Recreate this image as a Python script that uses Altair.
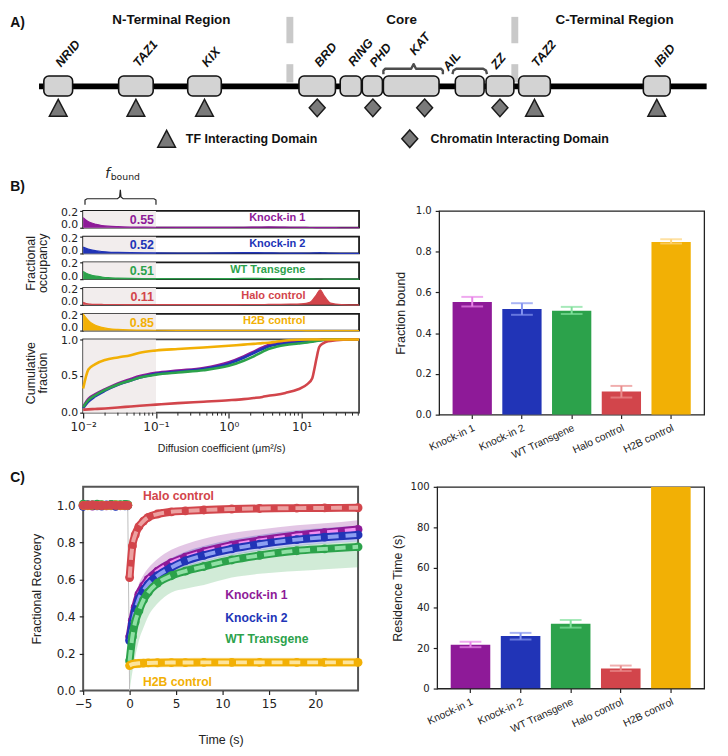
import altair as alt
import pandas as pd

S = 0.97
LF = "Liberation Sans"
NF = "DejaVu Sans"
INK = "#222222"
SHADE = "#f2eded"

# ---------------- shared categories / colours
groups = ["Knock-in 1", "Knock-in 2", "WT Transgene", "Halo control", "H2B control"]
group_colors = ["#8e1a98", "#2134b7", "#2ca24b", "#d2454b", "#f2b005"]
fit_colors = ["#f28ef0", "#8c9ef2", "#8fe0a4", "#eca1a1", "#fde49c"]
err_colors = ["#e884e8", "#8494f0", "#80e09b", "#e98b8b", "#fdd47c"]

# ---------------- Panel A (schematic, diagram position units)
domain_names = ["NRID", "TAZ1", "KIX", "BRD", "RING", "PHD", "KAT", "AIL", "ZZ", "TAZ2", "IBiD"]
domain_start = [37, 115, 187, 303, 346, 369, 391, 466, 498, 532, 662]
domain_end = [67, 151, 222, 341, 368, 390, 449, 496, 527, 565, 690]
tf_domains = ["NRID", "TAZ1", "KIX", "TAZ2", "IBiD"]
chromatin_sites = [322, 380, 434, 512.5]
region_names = ["N-Terminal Region", "Core", "C-Terminal Region"]
region_centres = [170, 410, 632]
region_borders = [293.5, 528]
backbone_span = [32, 728]
legend_names = ["TF Interacting Domain", "Chromatin Interacting Domain"]
bracket_kat_x = [391, 391, 393, 420, 422.5, 425, 451, 453, 453]
bracket_kat_y = [66, 62, 60, 60, 55, 60, 60, 62, 66]
bracket_ail_x = [463, 464, 467, 495, 498, 499]
bracket_ail_y = [66, 62, 60, 60, 62, 66]

# ---------------- Panel B data
bound_range = [0.01, 0.1]
fbound_labels = ["0.55", "0.52", "0.51", "0.11", "0.85"]
ridge_ticks = [0.0, 0.2]
cum_ticks = [0.0, 0.5, 1.0]
ridge_D = [0.01, 0.011, 0.0125, 0.015, 0.018, 0.022, 0.03, 0.045, 0.07, 0.1, 0.2, 0.5, 1.0,
           1.6, 2.5, 3.5, 5.0, 7.0, 10.0, 13.0, 16.0, 18.0, 20.0, 25.0, 35.0, 61.5]
occ_k1 = [0.12, 0.09, 0.062, 0.04, 0.027, 0.019, 0.013, 0.009, 0.007, 0.006, 0.005, 0.004, 0.005,
          0.006, 0.008, 0.010, 0.009, 0.006, 0.004, 0.003, 0.002, 0.002, 0.001, 0.001, 0.0, 0.0]
occ_k2 = [0.075, 0.06, 0.045, 0.032, 0.023, 0.016, 0.012, 0.009, 0.007, 0.006, 0.005, 0.005, 0.007,
          0.010, 0.009, 0.007, 0.005, 0.004, 0.004, 0.005, 0.008, 0.009, 0.007, 0.003, 0.001, 0.0]
occ_wt = [0.09, 0.07, 0.052, 0.036, 0.026, 0.018, 0.013, 0.009, 0.007, 0.006, 0.005, 0.005, 0.007,
          0.009, 0.009, 0.008, 0.006, 0.004, 0.003, 0.003, 0.002, 0.002, 0.001, 0.001, 0.0, 0.0]
occ_halo = [0.03, 0.016, 0.009, 0.006, 0.005, 0.004, 0.004, 0.003, 0.003, 0.003, 0.003, 0.003, 0.003,
            0.004, 0.004, 0.005, 0.006, 0.008, 0.012, 0.03, 0.12, 0.18, 0.12, 0.02, 0.003, 0.0]
occ_h2b = [0.2, 0.15, 0.10, 0.06, 0.038, 0.024, 0.014, 0.008, 0.005, 0.004, 0.003, 0.002, 0.002,
           0.002, 0.002, 0.001, 0.001, 0.001, 0.001, 0.0, 0.0, 0.0, 0.0, 0.0, 0.0, 0.0]
occupancy = [occ_k1, occ_k2, occ_wt, occ_halo, occ_h2b]

cum_D = [0.01, 0.0118, 0.0145, 0.02, 0.03, 0.045, 0.06, 0.1, 0.2, 0.45, 1.0, 1.6, 2.2, 2.9, 3.5,
         4.5, 6.0, 9.0, 12.0, 14.0, 15.0, 16.0, 17.5, 20.0, 23.0, 30.0, 45.0, 61.5]
cum_k1 = [0.08, 0.19, 0.25, 0.32, 0.40, 0.46, 0.50, 0.545, 0.575, 0.61, 0.69, 0.77, 0.835, 0.89, 0.925,
          0.945, 0.96, 0.97, 0.98, 0.985, 0.988, 0.99, 0.993, 0.998, 1.0, 1.0, 1.0, 1.0]
cum_k2 = [0.06, 0.15, 0.22, 0.30, 0.38, 0.44, 0.48, 0.53, 0.56, 0.595, 0.67, 0.75, 0.815, 0.87, 0.905,
          0.93, 0.945, 0.96, 0.97, 0.975, 0.98, 0.985, 0.99, 0.995, 0.999, 1.0, 1.0, 1.0]
cum_wt = [0.075, 0.17, 0.235, 0.31, 0.385, 0.44, 0.48, 0.52, 0.55, 0.58, 0.64, 0.71, 0.77, 0.83, 0.87,
          0.90, 0.925, 0.945, 0.96, 0.97, 0.975, 0.98, 0.985, 0.995, 1.0, 1.0, 1.0, 1.0]
cum_halo = [0.04, 0.045, 0.05, 0.058, 0.07, 0.085, 0.095, 0.11, 0.13, 0.15, 0.17, 0.185, 0.20, 0.215, 0.23,
            0.245, 0.27, 0.32, 0.39, 0.47, 0.6, 0.74, 0.9, 0.95, 0.975, 0.99, 1.0, 1.0]
cum_h2b = [0.33, 0.59, 0.66, 0.72, 0.755, 0.785, 0.82, 0.85, 0.87, 0.89, 0.915, 0.93, 0.94, 0.95, 0.955,
           0.97, 0.985, 0.997, 1.0, 1.0, 1.0, 1.0, 1.0, 1.0, 1.0, 1.0, 1.0, 1.0]
cumulative = [cum_k1, cum_k2, cum_wt, cum_halo, cum_h2b]
major_D = [0.01, 0.1, 1, 10]
minor_D = [0.02, 0.03, 0.04, 0.05, 0.06, 0.07, 0.08, 0.09, 0.2, 0.3, 0.4, 0.5, 0.6, 0.7, 0.8, 0.9,
           2, 3, 4, 5, 6, 7, 8, 9, 20, 30, 40, 50, 60]
brace_D = [0.0106, 0.0106, 0.0113, 0.0296, 0.0317, 0.0324, 0.0331, 0.0354, 0.094, 0.1, 0.1]
brace_y = [0.274, 0.33, 0.345, 0.345, 0.365, 0.451, 0.365, 0.345, 0.345, 0.33, 0.274]

fraction_bound = [0.553, 0.518, 0.510, 0.113, 0.848]
fb_low = [0.531, 0.490, 0.494, 0.084, 0.840]
fb_high = [0.578, 0.547, 0.529, 0.141, 0.861]

# ---------------- Panel C data
pre_t = [-5.0, -4.5, -4.0, -3.5, -3.0, -2.5, -2.0, -1.5, -1.0, -0.5, -0.2]
post_t = [0.0, 0.3, 0.6, 1.0, 1.5, 2.0, 3.0, 4.5, 6.0, 8.0, 11.0, 14.0, 18.0, 21.0, 24.6]
pre_k1 = [1.0, 1.004, 0.996, 1.002, 1.0, 0.997, 1.003, 1.0, 0.998, 1.002, 1.0]
pre_k2 = [0.995, 1.0, 1.003, 0.997, 0.996, 1.002, 0.998, 0.995, 1.0, 0.997, 0.998]
pre_wt = [1.006, 1.002, 1.0, 1.006, 1.004, 0.999, 1.005, 1.004, 1.003, 1.005, 1.004]
pre_halo = [1.0, 1.0, 1.001, 1.0, 0.999, 1.0, 1.001, 1.0, 1.0, 1.0, 1.0]
pre_h2b = [1.0, 0.998, 1.002, 1.0, 1.001, 0.999, 1.0, 1.002, 0.999, 1.0, 1.0]
post_k1 = [0.29, 0.38, 0.45, 0.52, 0.565, 0.60, 0.645, 0.69, 0.72, 0.75, 0.785, 0.81, 0.837, 0.853, 0.87]
post_k2 = [0.27, 0.36, 0.43, 0.495, 0.54, 0.575, 0.62, 0.665, 0.70, 0.73, 0.765, 0.79, 0.815, 0.828, 0.84]
post_wt = [0.16, 0.29, 0.37, 0.43, 0.49, 0.53, 0.58, 0.62, 0.645, 0.67, 0.705, 0.73, 0.755, 0.765, 0.776]
post_halo = [0.61, 0.78, 0.84, 0.885, 0.915, 0.935, 0.953, 0.965, 0.970, 0.975, 0.98, 0.983, 0.985, 0.986, 0.987]
post_h2b = [0.135, 0.142, 0.145, 0.147, 0.148, 0.149, 0.150, 0.151, 0.151, 0.152, 0.152, 0.152, 0.152, 0.152, 0.152]
band_up_k1 = [0.02, 0.04, 0.05, 0.055, 0.06, 0.06, 0.065, 0.07, 0.07, 0.07, 0.065, 0.06, 0.055, 0.05, 0.05]
band_dn_k1 = [0.03] * 15
band_up_k2 = [0.02, 0.035, 0.04, 0.045, 0.05, 0.05, 0.05, 0.05, 0.05, 0.05, 0.05, 0.05, 0.05, 0.05, 0.05]
band_dn_k2 = [0.035] * 15
band_up_wt = [0.03] * 15
band_dn_wt = [0.16, 0.19, 0.19, 0.16, 0.15, 0.13, 0.11, 0.09, 0.095, 0.10, 0.095, 0.10, 0.11, 0.11, 0.11]
band_up_halo = [0.015] * 15
band_dn_halo = [0.015] * 15
band_up_h2b = [0.025] * 15
band_dn_h2b = [0.025] * 15
pre = [pre_k1, pre_k2, pre_wt, pre_halo, pre_h2b]
post = [post_k1, post_k2, post_wt, post_halo, post_h2b]
band_up = [band_up_k1, band_up_k2, band_up_wt, band_up_halo, band_up_h2b]
band_dn = [band_dn_k1, band_dn_k2, band_dn_wt, band_dn_halo, band_dn_h2b]
bleach_t = [-0.2, 0.0]
bleach_v = [1.0, 0.0]
c_label_t = [10.3, 10.3, 10.3, 1.44, 1.44]
c_label_y = [0.513, 0.394, 0.28, 1.048, 0.048]

residence = [21.7, 26.0, 32.1, 10.0, 100.0]
rt_low = [20.5, 24.3, 30.2, 8.7, None]
rt_high = [23.2, 27.6, 34.0, 11.4, None]


# ---------------- helpers
def corner(px, py):
    return alt.Chart(pd.DataFrame({"k": [0]})).mark_square(size=1, color="white", opacity=1).encode(
        x=alt.value(px), y=alt.value(py))


def note(text, px, py, size, **kw):
    props = dict(font=LF, fontSize=size, color=INK, align="left", baseline="middle")
    props.update(kw)
    return alt.Chart(pd.DataFrame({"t": [text]})).mark_text(**props).encode(
        x=alt.value(px), y=alt.value(py), text="t:N")


# ================= Panel A
SY = 0.92
XA = alt.Scale(domain=[78, 78 + 624 / S], nice=False, zero=False)
YA = alt.Scale(domain=[0, 142 / SY], reverse=True, nice=False, zero=False)


def ax(f):
    return alt.X(f"{f}:Q", scale=XA, axis=None)


def ay(f):
    return alt.Y(f"{f}:Q", scale=YA, axis=None)


BOX_TOP, BOX_BOT, LINE_Y, MARK_Y, LEG_Y, TITLE_Y = 68, 90, 79.5, 103, 137, 7
SEP_HALF = 3.6
TRI = "M0,-0.95L1,0.95L-1,0.95Z"
DIA = "M0,-1L0.9,0L0,1L-0.9,0Z"
label_anchor_x = {"KAT": 424, "AIL": 459, "ZZ": 509}
label_anchor_y = {"RING": 58, "KAT": 46, "AIL": 63, "ZZ": 61}

dom = pd.DataFrame({"name": domain_names, "start": domain_start, "end": domain_end})
dom["mid"] = (dom["start"] + dom["end"]) / 2
dom["top"] = BOX_TOP
dom["bot"] = BOX_BOT
dom["lx"] = [label_anchor_x.get(n, m + 3) for n, m in zip(dom["name"], dom["mid"])]
dom["ly"] = [label_anchor_y.get(n, 59) for n in dom["name"]]

sep_x = [b for b in region_borders for _ in (0, 1)]
sep_df = pd.DataFrame({"x": [v - SEP_HALF for v in sep_x], "x2": [v + SEP_HALF for v in sep_x],
                       "y": [3, 55] * len(region_borders), "y2": [32, 75] * len(region_borders)})
seps = alt.Chart(sep_df).mark_rect(color="#c9c9c9").encode(x=ax("x"), x2="x2:Q", y=ay("y"), y2="y2:Q")
backbone = alt.Chart(pd.DataFrame({"x": [backbone_span[0]], "x2": [backbone_span[1]], "y": [LINE_Y]})).mark_rule(
    color="black", strokeWidth=6 * S).encode(x=ax("x"), x2="x2:Q", y=ay("y"))
boxes = alt.Chart(dom).mark_rect(cornerRadius=5, fill="#d3d3d3", stroke="#111111", strokeWidth=1.6).encode(
    x=ax("start"), x2="end:Q", y=ay("top"), y2="bot:Q")
br_df = pd.DataFrame({"b": ["KAT"] * len(bracket_kat_x) + ["AIL"] * len(bracket_ail_x),
                      "i": list(range(len(bracket_kat_x))) + list(range(len(bracket_ail_x))),
                      "x": bracket_kat_x + bracket_ail_x, "y": bracket_kat_y + bracket_ail_y})
brackets = alt.Chart(br_df).mark_line(color="#4d4d4d", strokeWidth=2.5 * S, strokeJoin="round").encode(
    x=ax("x"), y=ay("y"), detail="b:N", order="i:Q")
dlabels = alt.Chart(dom).mark_text(angle=310, align="left", baseline="alphabetic", font=LF,
                                   fontSize=13 * S, fontWeight="bold", fontStyle="italic", color="#111111").encode(
    x=ax("lx"), y=ay("ly"), text="name:N")
tri_df = dom[dom["name"].isin(tf_domains)].assign(y=MARK_Y)
tris = alt.Chart(tri_df).mark_point(shape=TRI, size=320, filled=True, color="#7a7a7a", stroke="#1a1a1a",
                                    strokeWidth=1.5, opacity=1).encode(x=ax("mid"), y=ay("y"))
dia_df = pd.DataFrame({"x": chromatin_sites, "y": MARK_Y})
dias = alt.Chart(dia_df).mark_point(shape=DIA, size=320, filled=True, color="#7a7a7a", stroke="#1a1a1a",
                                    strokeWidth=1.5, opacity=1).encode(x=ax("x"), y=ay("y"))
leg_tri = alt.Chart(pd.DataFrame({"x": [165], "y": [LEG_Y]})).mark_point(
    shape=TRI, size=320, filled=True, color="#7a7a7a", stroke="#1a1a1a", strokeWidth=1.5, opacity=1).encode(
    x=ax("x"), y=ay("y"))
leg_dia = alt.Chart(pd.DataFrame({"x": [418.5], "y": [LEG_Y]})).mark_point(
    shape=DIA, size=320, filled=True, color="#7a7a7a", stroke="#1a1a1a", strokeWidth=1.5, opacity=1).encode(
    x=ax("x"), y=ay("y"))
leg_txt = alt.Chart(pd.DataFrame({"t": legend_names, "x": [185, 440], "y": [LEG_Y, LEG_Y]})).mark_text(
    align="left", baseline="middle", font=LF, fontSize=13 * S, fontWeight="bold", color="#111111").encode(
    x=ax("x"), y=ay("y"), text="t:N")
reg_txt = alt.Chart(pd.DataFrame({"t": region_names, "x": region_centres, "y": [TITLE_Y] * 3})).mark_text(
    align="center", baseline="middle", font=LF, fontSize=14 * S, fontWeight="bold", color="#111111").encode(
    x=ax("x"), y=ay("y"), text="t:N")
a_lab = alt.Chart(pd.DataFrame({"t": ["A)"], "x": [2], "y": [10]})).mark_text(
    align="left", baseline="middle", font=LF, fontSize=14.5 * S, fontWeight="bold", color="#111111").encode(
    x=ax("x"), y=ay("y"), text="t:N")

panelA = alt.layer(seps, backbone, boxes, brackets, dlabels, tris, dias, leg_tri, leg_dia, leg_txt, reg_txt,
                   a_lab, corner(-73.72, 0), corner(638.3, 147)).properties(
    width=624, height=142, view=alt.ViewBackground(stroke="transparent"))

# ================= Panel B left
RH = 17  # ridge panel height
TICKF = 11
XLOG = alt.Scale(type="log", domain=[0.01, 61.5], nice=False)
YRID = alt.Scale(domain=[0, 0.2], nice=False, zero=False)
AX_RID = alt.Axis(values=ridge_ticks, labels=False, title=None, tickSize=3.5)


def rx(f):
    return alt.X(f"{f}:Q", scale=XLOG, axis=None)


def ry(f):
    return alt.Y(f"{f}:Q", scale=YRID, axis=AX_RID)


def tick_text(yenc, vals, fmt, shifts):
    out = []
    for v, d in zip(vals, shifts):
        out.append(alt.Chart(pd.DataFrame({"y": [v], "t": [format(v, fmt)]})).mark_text(
            align="right", baseline="middle", font=NF, fontSize=TICKF, color=INK, dy=d).encode(
            x=alt.value(-5), y=yenc("y"), text="t:N"))
    return out


def ridge_chart(i):
    c = group_colors[i]
    shade = alt.Chart(pd.DataFrame({"lo": [bound_range[0]], "hi": [bound_range[1]], "y0": [0.0], "y1": [0.2]})
                      ).mark_rect(color=SHADE).encode(x=rx("lo"), x2="hi:Q", y=ry("y0"), y2="y1:Q")
    area = alt.Chart(pd.DataFrame({"D": ridge_D, "occ": occupancy[i]})).mark_area(
        color=c, opacity=1, interpolate="monotone", line={"color": c, "strokeWidth": 1.2}).encode(
        x=rx("D"), y=ry("occ"))
    val = alt.Chart(pd.DataFrame({"D": [0.094], "y": [0.095], "t": [fbound_labels[i]]})).mark_text(
        align="right", baseline="middle", font=LF, fontWeight="bold", fontSize=13 * S, color=c).encode(
        x=rx("D"), y=ry("y"), text="t:N")
    name = alt.Chart(pd.DataFrame({"D": [11.3], "y": [0.11], "t": [groups[i]]})).mark_text(
        align="right", baseline="middle", font=LF, fontWeight="bold", fontSize=11.5 * S, color=c).encode(
        x=rx("D"), y=ry("y"), text="t:N")
    layers = [shade, area, val, name] + tick_text(ry, ridge_ticks, ".1f", [-2.5, 2])
    if i == 0:
        brace = alt.Chart(pd.DataFrame({"D": brace_D, "y": brace_y, "i": list(range(len(brace_D)))})).mark_line(
            color=INK, strokeWidth=1.2).encode(x=rx("D"), y=ry("y"), order="i:Q")
        layers += [brace,
                   note("B)", -73.72, -24.3, 14.5 * S, fontWeight="bold", color="#111111"),
                   note("f", 22.3, -33.3, 14 * S, font=NF, fontStyle="italic", baseline="alphabetic"),
                   note("bound", 27.8, -30.8, 9.7 * S, font=NF, baseline="alphabetic"),
                   corner(-73.72, -48)]
    if i == 2:
        layers += [note("Fractional", -52.4, 1, 13 * S, angle=270, align="center"),
                   note("occupancy", -40.7, 1, 13 * S, angle=270, align="center")]
    return alt.layer(*layers).properties(width=279, height=RH,
                                         view=alt.ViewBackground(stroke="#1a1a1a", strokeWidth=1.8))


ridges = [ridge_chart(i) for i in range(5)]

CH = 74
YCUM = alt.Scale(domain=[0, 1], nice=False)
AX_CX = alt.Axis(values=major_D,
                 labelExpr="datum.value < 0.05 ? '10⁻²' : datum.value < 0.5 ? '10⁻¹' : datum.value < 5 ? '10⁰' : '10¹'",
                 title="Diffusion coefficient (μm²/s)", tickSize=5.5, labelPadding=3, labelFontSize=12.5 * S,
                 titleFontSize=11 * S, titlePadding=11)
AX_CY = alt.Axis(values=cum_ticks, labels=False, title=None, tickSize=3.5)


def kx(f):
    return alt.X(f"{f}:Q", scale=XLOG, axis=AX_CX)


def ky(f):
    return alt.Y(f"{f}:Q", scale=YCUM, axis=AX_CY)


cum_rows = []
for g, col, vals in zip(groups, group_colors, cumulative):
    for d, v in zip(cum_D, vals):
        cum_rows.append({"g": g, "col": col, "D": d, "v": v})
cum_df = pd.DataFrame(cum_rows)
cshade = alt.Chart(pd.DataFrame({"lo": [bound_range[0]], "hi": [bound_range[1]], "y0": [0.0], "y1": [1.0]})
                   ).mark_rect(color=SHADE).encode(x=kx("lo"), x2="hi:Q", y=ky("y0"), y2="y1:Q")
clines = alt.Chart(cum_df).mark_line(strokeWidth=2.6, interpolate="monotone").encode(
    x=kx("D"), y=ky("v"), color=alt.Color("col:N", scale=None), detail="g:N")
minor = alt.Chart(pd.DataFrame({"m": minor_D})).mark_rule(color=INK, strokeWidth=1).encode(
    x=kx("m"), y=alt.value(CH), y2=alt.value(CH + 3))
cum_chart = alt.layer(cshade, clines, minor,
                      *tick_text(ky, cum_ticks, ".1f", [0, 0, 1.5]),
                      note("Cumulative", -52.4, 34, 13 * S, angle=270, align="center"),
                      note("fraction", -40.7, 34, 13 * S, angle=270, align="center"),
                      corner(296.3, 125)).properties(
    width=279, height=CH, view=alt.ViewBackground(stroke="#444444", strokeWidth=1.8))

bleft = alt.vconcat(*ridges, cum_chart, spacing=9, bounds="flush")

# ================= Panel B right
XB = alt.Scale(domain=groups, paddingInner=0.21, paddingOuter=0.27)
AX_BX = alt.Axis(title=None, labelAngle=335, labelAlign="right", labelBaseline="top", labelFont=LF,
                 labelFontSize=10.8 * S, tickSize=4, labelPadding=4)


def bar_panel(values, lows, highs, ydomain, yvalues, yfmt, ytitle, tpad, width, height, corners):
    df = pd.DataFrame({"g": groups, "col": group_colors, "ecol": err_colors, "v": values,
                       "lo": lows, "hi": highs})
    yax = alt.Axis(values=yvalues, format=yfmt, title=ytitle, tickSize=4, labelPadding=4,
                   labelFontSize=10.5 * S, titleFontSize=13 * S, titlePadding=tpad)
    ysc = alt.Scale(domain=ydomain, nice=False)
    xe = alt.X("g:N", scale=XB, sort=groups, axis=AX_BX)
    bars = alt.Chart(df).mark_bar(clip=True).encode(
        x=xe, y=alt.Y("v:Q", scale=ysc, axis=yax), color=alt.Color("col:N", scale=None))
    edf = df.dropna()
    rules = alt.Chart(edf).mark_rule(strokeWidth=2).encode(
        x=xe, y=alt.Y("lo:Q", scale=ysc, axis=yax), y2="hi:Q", color=alt.Color("ecol:N", scale=None))
    cap_df = pd.concat([edf.assign(c=edf["lo"]), edf.assign(c=edf["hi"])])
    caps = alt.Chart(cap_df).mark_tick(orient="horizontal", size=22, thickness=2).encode(
        x=xe, y=alt.Y("c:Q", scale=ysc, axis=yax), color=alt.Color("ecol:N", scale=None))
    return alt.layer(bars, rules, caps, corner(*corners[0]), corner(*corners[1])).properties(
        width=width, height=height, view=alt.ViewBackground(stroke=INK, strokeWidth=1.3))


bright = bar_panel(fraction_bound, fb_low, fb_high, [0, 1], [0, 0.2, 0.4, 0.6, 0.8, 1.0], ".1f",
                   "Fraction bound", 7.5, 268, 206, [(-60.7, -48), (281.3, 255)])

rowB = alt.hconcat(bleft, bright, spacing=0)

# ================= Panel C left
XT = alt.Scale(domain=[-5, 24.6], nice=False, zero=False)
YR = alt.Scale(domain=[0, 1.1], nice=False)
AX_TX = alt.Axis(values=[-5, 0, 5, 10, 15, 20], title="Time (s)", tickSize=4, labelPadding=3,
                 labelFontSize=12.5 * S, titleFontSize=13 * S, titlePadding=24)
AX_TY = alt.Axis(values=[0, 0.2, 0.4, 0.6, 0.8, 1.0], format=".1f", title="Fractional Recovery", tickSize=4,
                 labelPadding=4, labelFontSize=12.5 * S, titleFontSize=13 * S, titlePadding=13)


def cx(f):
    return alt.X(f"{f}:Q", scale=XT, axis=AX_TX)


def cy(f):
    return alt.Y(f"{f}:Q", scale=YR, axis=AX_TY)


c_layers = []
for i in range(5):
    lo = [m - d for m, d in zip(post[i], band_dn[i])]
    hi = [m + u for m, u in zip(post[i], band_up[i])]
    bdf = pd.DataFrame({"t": post_t, "lo": lo, "hi": hi})
    c_layers.append(alt.Chart(bdf).mark_area(color=group_colors[i], opacity=0.25 if i != 2 else 0.22,
                                             interpolate="monotone").encode(x=cx("t"), y=cy("lo"), y2="hi:Q"))
c_layers.append(alt.Chart(pd.DataFrame({"t": bleach_t, "v": bleach_v})).mark_line(
    color="#bdbdbd", strokeWidth=1).encode(x=cx("t"), y=cy("v")))
for i in [0, 1, 2, 4, 3]:
    c = group_colors[i]
    sdf = pd.DataFrame({"t": pre_t + post_t, "v": pre[i] + post[i],
                        "seg": ["pre"] * len(pre_t) + ["post"] * len(post_t)})
    c_layers.append(alt.Chart(sdf).mark_line(color=c, strokeWidth=8, interpolate="monotone").encode(
        x=cx("t"), y=cy("v"), detail="seg:N"))
    c_layers.append(alt.Chart(sdf).mark_circle(color=c, size=80, opacity=1).encode(x=cx("t"), y=cy("v")))
    c_layers.append(alt.Chart(sdf[sdf["seg"] == "post"]).mark_line(
        color=fit_colors[i], strokeWidth=4, strokeDash=[11, 7], interpolate="monotone").encode(
        x=cx("t"), y=cy("v")))
ctext = alt.Chart(pd.DataFrame({"t": c_label_t, "y": c_label_y, "g": groups, "col": group_colors})).mark_text(
    align="left", baseline="middle", font=LF, fontWeight="bold", fontSize=12.7 * S).encode(
    x=cx("t"), y=cy("y"), text="g:N", color=alt.Color("col:N", scale=None))
c_layers += [ctext, note("C)", -73.72, -9, 14.5 * S, fontWeight="bold", color="#111111"),
             corner(-73.72, -18), corner(292.3, 266)]
cleft = alt.layer(*c_layers).properties(width=278, height=206,
                                         view=alt.ViewBackground(stroke="#555555", strokeWidth=2))

# ================= Panel C right
cright = bar_panel(residence, rt_low, rt_high, [0, 100], [0, 20, 40, 60, 80, 100], "d",
                   "Residence Time (s)", 6, 270, 204, [(-61.8, -20.6), (284.2, 263.4)])

rowC = alt.hconcat(cleft, cright, spacing=0)

chart = alt.vconcat(panelA, rowB, rowC, spacing=0).properties(padding=0).configure(font=LF).configure_axis(
    grid=False, domain=False, tickColor=INK, tickWidth=1.2, labelColor=INK, titleColor=INK,
    labelFont=NF, titleFont=LF, titleFontWeight="normal", labelFlush=False, labelOverlap=False
).configure_view(stroke=INK, strokeWidth=1.4)

chart.save("out.html", embed_options={"renderer": "svg", "actions": False})
